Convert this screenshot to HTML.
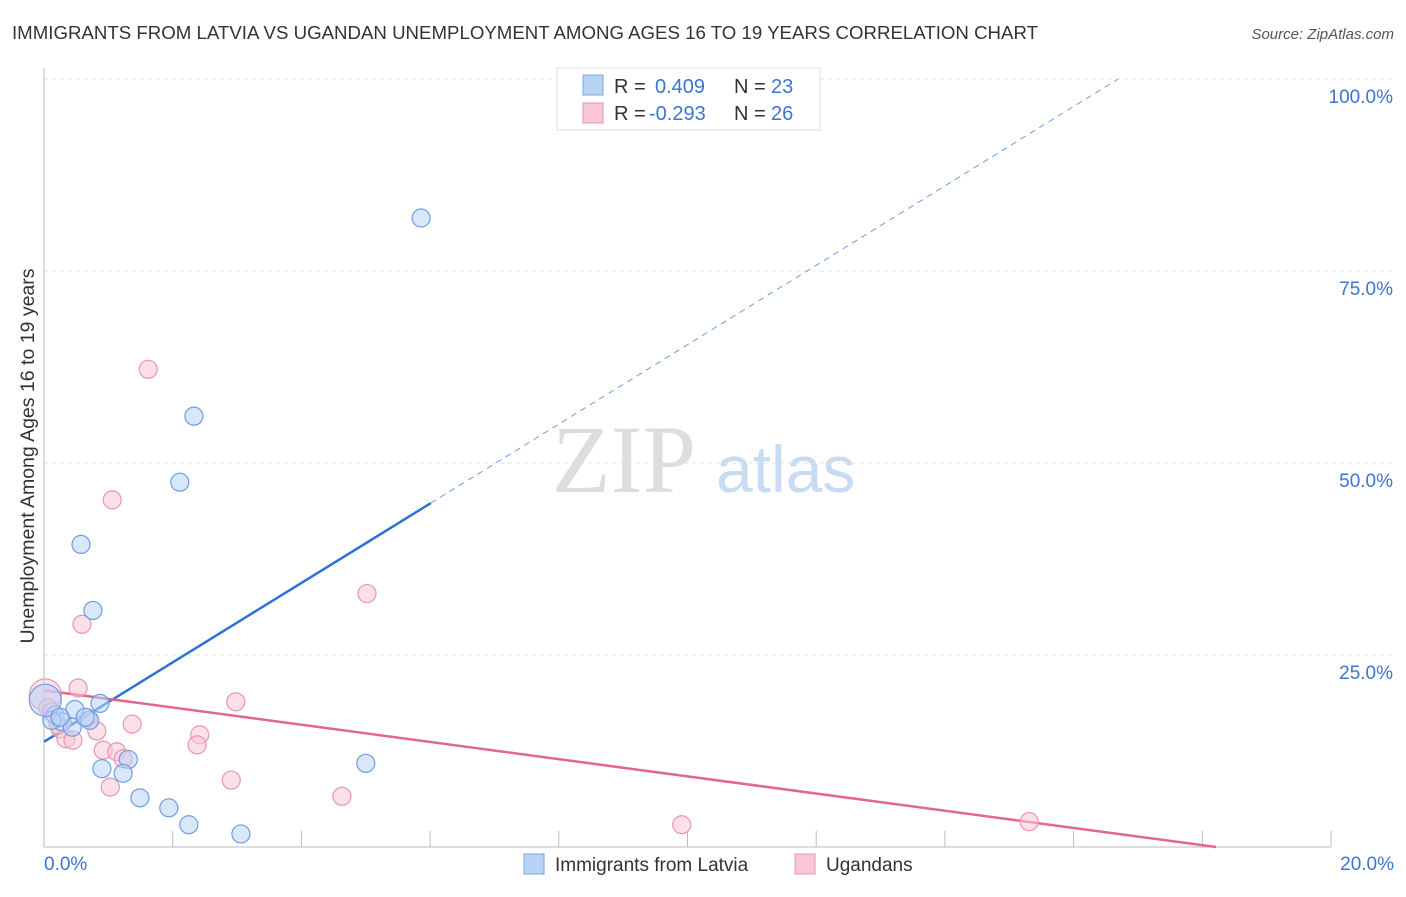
<!DOCTYPE html>
<html><head><meta charset="utf-8"><style>
body{margin:0;background:#fff;font-family:"Liberation Sans",sans-serif;}
</style></head><body>
<svg id="chart" width="1406" height="892" xmlns="http://www.w3.org/2000/svg" font-family="Liberation Sans, sans-serif">
<text x="12" y="39" font-size="18.5" fill="#333" textLength="1026" lengthAdjust="spacingAndGlyphs">IMMIGRANTS FROM LATVIA VS UGANDAN UNEMPLOYMENT AMONG AGES 16 TO 19 YEARS CORRELATION CHART</text>
<text x="1394" y="39" font-size="15" fill="#555" font-style="italic" text-anchor="end">Source: ZipAtlas.com</text>
<text x="552" y="492" font-size="96" fill="#ddd" style="font-family:'Liberation Serif',serif">ZIP</text>
<text x="716" y="492" font-size="66" fill="#c9dbf2">atlas</text>
<text transform="translate(34,456) rotate(-90)" font-size="19.5" fill="#333" text-anchor="middle">Unemployment Among Ages 16 to 19 years</text>
<g id="grid"></g><g id="axes"></g><g id="lines"></g><g id="pts"></g>
<g>
<rect x="557" y="68" width="263" height="62" fill="#fff" stroke="#ddd"/>
<rect x="583" y="75" width="20" height="20" fill="#b9d3f5" stroke="#7aa7e0"/>
<rect x="583" y="103" width="20" height="20" fill="#f9c6d6" stroke="#e995b0"/>
<text x="614" y="93" font-size="20" fill="#333">R = </text><text x="655" y="93" font-size="20" fill="#3a75d0">0.409</text>
<text x="734" y="93" font-size="20" fill="#333">N = </text><text x="771" y="93" font-size="20" fill="#3a75d0">23</text>
<text x="614" y="120" font-size="20" fill="#333">R = </text><text x="649" y="120" font-size="20" fill="#3a75d0">-0.293</text>
<text x="734" y="120" font-size="20" fill="#333">N = </text><text x="771" y="120" font-size="20" fill="#3a75d0">26</text>
</g>
<g>
<rect x="524" y="854" width="20" height="20" fill="#b9d3f5" stroke="#7aa7e0"/>
<text x="555" y="871" font-size="19" fill="#333">Immigrants from Latvia</text>
<rect x="795" y="854" width="20" height="20" fill="#f9c6d6" stroke="#e995b0"/>
<text x="826" y="871" font-size="19" fill="#333">Ugandans</text>
</g>
</svg>
<script>
const blueX=[5.86,2.33,2.11,0.575,0.76,0.87,0.48,0.17,0.71,0.28,0.44,0.12,0.02,1.31,0.90,1.23,1.49,1.94,2.25,3.06,5.00,0.25,0.64];
const blueY=[81.9,56.1,47.5,39.4,30.8,18.7,17.9,17.2,16.5,16.3,15.6,16.5,19.1,11.4,10.2,9.6,6.4,5.1,2.9,1.7,10.9,16.9,16.9];
const pinkX=[1.62,1.06,5.02,0.59,0.53,2.98,0.02,0.06,0.12,0.68,1.37,0.82,2.42,0.25,0.34,0.45,0.92,1.13,2.38,1.23,2.91,1.03,4.63,9.91,15.31,0.22];
const pinkY=[62.2,45.2,33.0,29.0,20.7,18.9,19.8,18.1,17.6,16.8,16.0,15.1,14.6,15.4,14.1,13.9,12.6,12.4,13.3,11.5,8.7,7.8,6.6,2.9,3.3,15.9];
const yTicks=[25,50,75,100];
const xTickLabels=["0.0%","20.0%"];
const blueTrend=[13.7,5.17]; // intercept, slope
const pinkTrend=[20.4,-1.12];
const NS="http://www.w3.org/2000/svg";
const sx=v=>44+v/20*1287, sy=v=>847-v/100*768;
function mk(t,a,p){const e=document.createElementNS(NS,t);for(const k in a)e.setAttribute(k,a[k]);document.getElementById(p).appendChild(e);return e;}
yTicks.forEach((t,i)=>{
 const g=mk('line',{x1:44,x2:1394,y1:sy(t),y2:sy(t),stroke:'#e3e3e3','stroke-dasharray':'4,4'},'grid');
 
 
 const l=mk('text',{x:1393,y:sy(t)+24,'font-size':19,fill:'#3a75d0','text-anchor':'end'},'axes');
 l.textContent=t.toFixed(1)+'%';
 
 
});
const ax=mk('line',{x1:44,x2:44,y1:68,y2:847,stroke:'#bbb'},'axes');


const bx=mk('line',{x1:44,x2:1331,y1:847,y2:847,stroke:'#bbb'},'axes');


for(let i=1;i<=10;i++){const t=mk('line',{x1:sx(i*2),x2:sx(i*2),y1:831,y2:847,stroke:'#bbb'},'axes');
 
 }
const xl0=mk('text',{x:44,y:870,'font-size':19,fill:'#3a75d0'},'axes');xl0.textContent=xTickLabels[0];


const xl1=mk('text',{x:1394,y:870,'font-size':19,fill:'#3a75d0','text-anchor':'end'},'axes');xl1.textContent=xTickLabels[1];


function pts(X,Y,fill,stroke,name){X.forEach((x,i)=>{const big=x<0.05;const c=mk('circle',{cx:sx(x),cy:sy(Y[i]),r:big?16:9,fill:fill,'fill-opacity':0.55,stroke:stroke,'stroke-width':1.2},'pts');
 
 });}
pts(pinkX,pinkY,'#f9c6d6','#e995b0','point-ugandans');
pts(blueX,blueY,'#b9d3f5','#6b9de0','point-latvia');
const f=(t,x)=>t[0]+t[1]*x;
const b1=mk('line',{x1:sx(0),y1:sy(f(blueTrend,0)),x2:sx(6.01),y2:sy(f(blueTrend,6.01)),stroke:'#2a72d4','stroke-width':2.5},'lines');


const xe=(100-blueTrend[0])/blueTrend[1];
const b2=mk('line',{x1:sx(6.01),y1:sy(f(blueTrend,6.01)),x2:sx(xe),y2:sy(100),stroke:'#6b9de0','stroke-width':1,'stroke-dasharray':'6,5'},'lines');


const pe=-pinkTrend[0]/pinkTrend[1];
const p1=mk('line',{x1:sx(0),y1:sy(f(pinkTrend,0)),x2:sx(pe),y2:sy(0),stroke:'#e2668f','stroke-width':2.5},'lines');


</script>
</body></html>
